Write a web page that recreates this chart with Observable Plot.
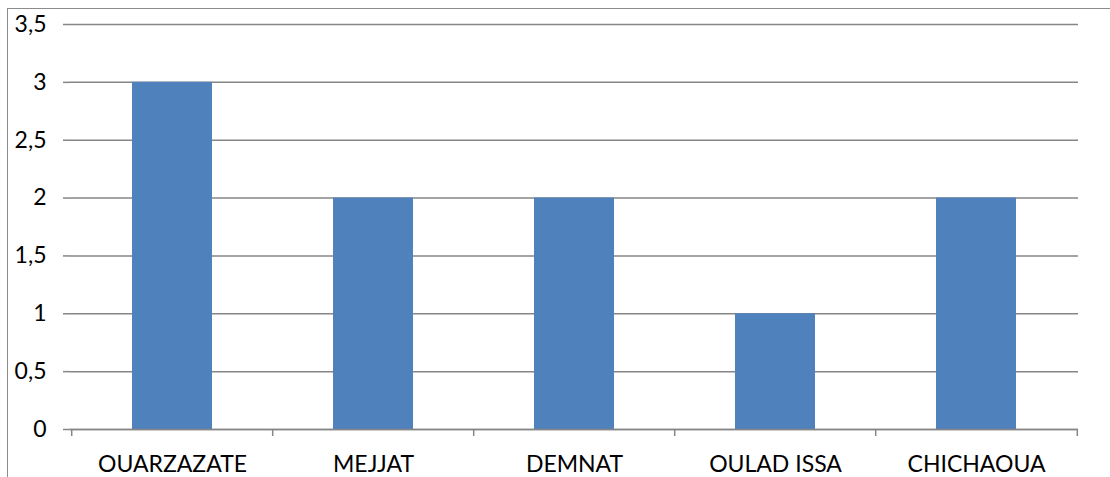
<!DOCTYPE html>
<html>
<head>
<meta charset="utf-8">
<script src="https://cdn.jsdelivr.net/npm/d3@7"></script>
<script src="https://cdn.jsdelivr.net/npm/@observablehq/plot@0.6"></script>
<style>
  html, body { margin: 0; padding: 0; background: #fff; }
  #chart { position: relative; width: 1110px; height: 477px; overflow: hidden; }
  #border { position: absolute; left: 7px; top: 8px; width: 1200px; height: 600px;
            border-left: 1px solid #8c8c8c; border-top: 1px solid #8c8c8c; }
  #chart svg { position: absolute; left: 0; top: 0; }
</style>
</head>
<body>
<div id="chart"><div id="border"></div></div>
<script>
// Number of sites per locality
const categories = ["OUARZAZATE", "MEJJAT", "DEMNAT", "OULAD ISSA", "CHICHAOUA"];
const values = [3, 2, 2, 1, 2];
const yTicks = [0, 0.5, 1, 1.5, 2, 2.5, 3, 3.5];

const data = categories.map((c, i) => ({ cat: c, value: values[i] }));

const W = 1110, H = 477;
const mL = 70, mR = 32, mT = 24, mB = 48;
const padIn = 0.6, padOut = 0.3;
// distance between category centres, used to put tick marks on the band boundaries
const step = (W - mL - mR) / (categories.length - padIn + 2 * padOut);
const grey = "#868686";
const fmt = d => String(d).replace(".", ",");

const plot = Plot.plot({
  width: W, height: H,
  marginLeft: mL, marginRight: mR, marginTop: mT, marginBottom: mB,
  style: { fontFamily: "Lato, sans-serif", fontSize: "23px", color: "#000", background: "transparent", overflow: "visible" },
  x: { domain: categories, paddingInner: padIn, paddingOuter: padOut, axis: null, label: null },
  y: { domain: [0, 3.5], axis: null, label: null },
  marks: [
    Plot.gridY(yTicks, { stroke: grey, strokeOpacity: 1, strokeWidth: 1.5 }),
    Plot.barY(data, { x: "cat", y: "value", fill: "#4F81BD" }),
    Plot.ruleY([0], { stroke: grey, strokeWidth: 1.5 }),
    Plot.axisY({ ticks: yTicks, tickSize: 7, tickPadding: 17, tickFormat: fmt, stroke: grey, strokeWidth: 1.5, fill: "#000", label: null }),
    Plot.ruleX([0], { frameAnchor: "left", stroke: grey, strokeWidth: 1.5 }),
    Plot.axisX({ ticks: categories, text: null, tickSize: 7, dx: -step / 2, stroke: grey, strokeWidth: 1.5, label: null }),
    Plot.axisX({ ticks: categories.slice(-1), text: null, tickSize: 7, dx: step / 2, stroke: grey, strokeWidth: 1.5, label: null }),
    Plot.axisX({ ticks: categories, tickSize: 0, tickPadding: 26, fill: "#000", label: null })
  ]
});

document.getElementById("chart").appendChild(plot);
</script>
</body>
</html>
